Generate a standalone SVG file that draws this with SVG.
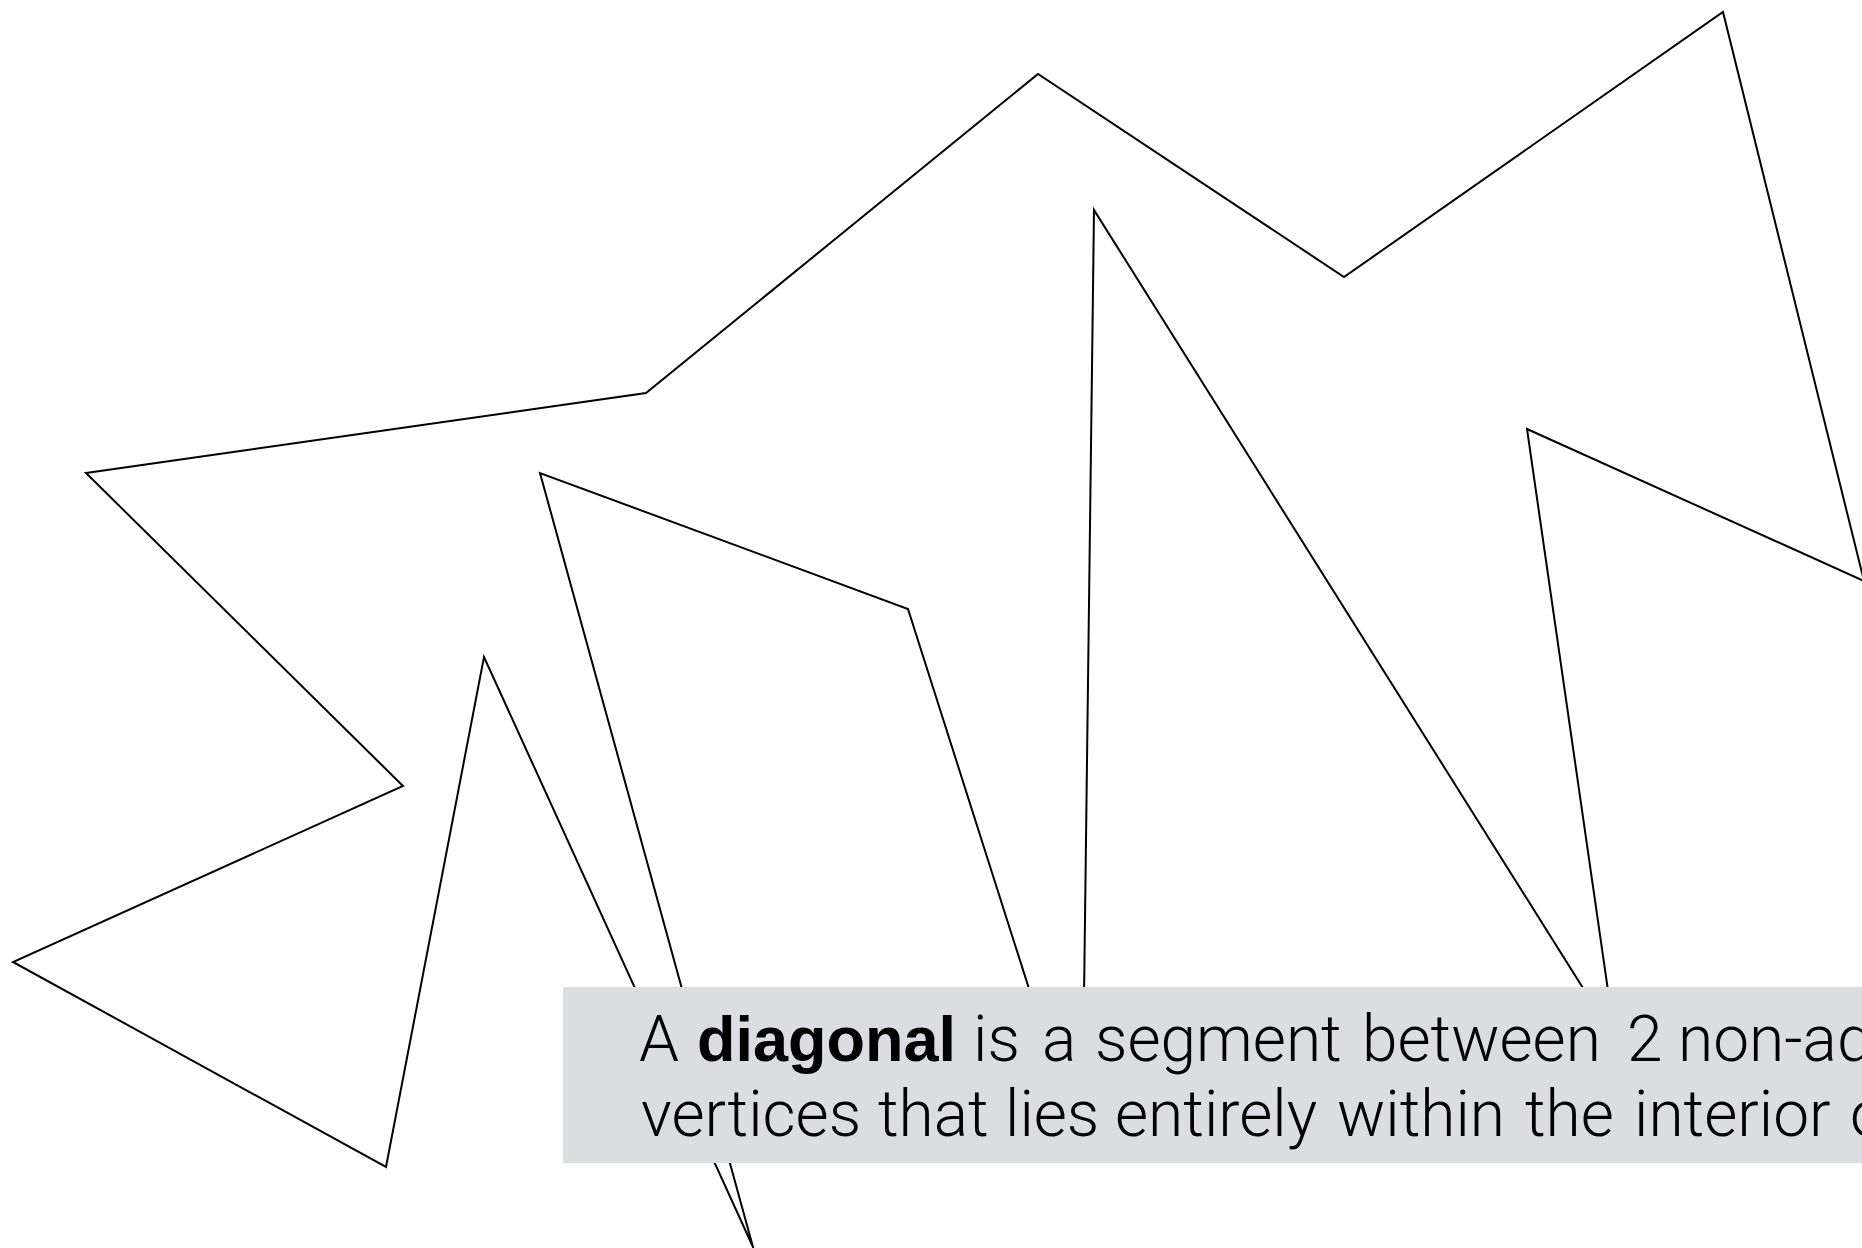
<svg xmlns="http://www.w3.org/2000/svg" width="1862" height="1248" viewBox="0 0 1862 1248">
  <style>
    .poly { fill: #ffffff; stroke: #000000; stroke-width: 2; stroke-linejoin: miter; stroke-miterlimit: 40; }
    .box { fill: #dcdde0; }
    .t { font-family: Roboto, "Liberation Sans", Arial, sans-serif; font-weight: 300; font-size: 64px; fill: #000000; }
    .b { font-family: "Liberation Sans", Arial, sans-serif; font-weight: 700; font-size: 63px; }
  </style>
  <rect x="0" y="0" width="1862" height="1248" fill="#ffffff"/>
  <g id="polygon">
    <polygon class="poly" points="86,473 646,393 1038,74 1344,277 1723,12 1864,581 1527,429 1615,1039 1094,210 1082,1155 908,609 540,473 753,1247 484,657 386,1167 13,962 403,786"/>
  </g>
  <g id="label">
    <rect class="box" x="563" y="987" width="1310" height="176"/>
    <text class="t" y="1060.5"><tspan x="639">A</tspan> <tspan x="697" class="b">diagonal</tspan> <tspan x="973">is</tspan> <tspan x="1042">a</tspan> <tspan x="1095">segment</tspan> <tspan x="1362">between</tspan> <tspan x="1627">2</tspan> <tspan x="1678">non-ad</tspan></text>
    <text class="t" y="1135.5"><tspan x="641">vertices</tspan> <tspan x="878">that</tspan> <tspan x="1005">lies</tspan> <tspan x="1115">entirely</tspan> <tspan x="1337">within</tspan> <tspan x="1525">the</tspan> <tspan x="1634">interior</tspan> <tspan x="1850">o</tspan></text>
  </g>
</svg>
